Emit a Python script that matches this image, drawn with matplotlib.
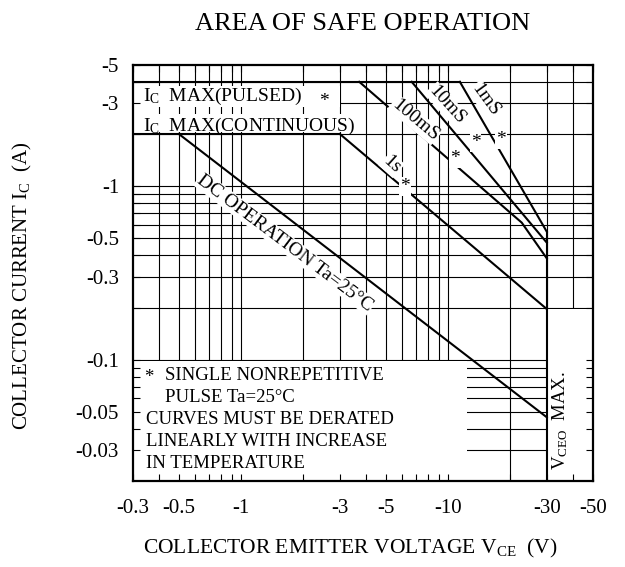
import matplotlib
matplotlib.use("Agg")
import matplotlib.pyplot as plt
from matplotlib.patches import Rectangle
from matplotlib.ticker import FixedLocator, FixedFormatter, NullFormatter

plt.rcParams['font.family'] = ['Liberation Serif', 'DejaVu Serif']
plt.rcParams['mathtext.fontset'] = 'custom'
plt.rcParams['mathtext.rm'] = 'Liberation Serif'
plt.rcParams['mathtext.it'] = 'Liberation Serif:italic'
plt.rcParams['mathtext.bf'] = 'Liberation Serif:bold'

# ---------------- data ----------------
x_ticks = [0.3, 0.5, 1, 3, 5, 10, 30, 50]
x_tick_labels = ["-0.3", "-0.5", "-1", "-3", "-5", "-10", "-30", "-50"]
y_ticks = [0.03, 0.05, 0.1, 0.3, 0.5, 1, 3, 5]
y_tick_labels = ["-0.03", "-0.05", "-0.1", "-0.3", "-0.5", "-1", "-3", "-5"]

x_grid = [0.4, 0.5, 0.6, 0.7, 0.8, 0.9, 1, 2, 3, 4, 5, 6, 7, 8, 9, 10, 20, 30, 40]
y_grid = [0.03, 0.04, 0.05, 0.06, 0.07, 0.08, 0.09, 0.1, 0.2, 0.3, 0.4, 0.5,
          0.6, 0.7, 0.8, 0.9, 1, 2, 3, 4]

vce_pulsed = [0.3, 11.4]
ic_pulsed = [4.0, 4.0]
vce_cont = [0.3, 3.0]
ic_cont = [2.0, 2.0]
vce_dc = [0.5, 30]
ic_dc = [2.0, 0.0466]
vce_1s = [3.0, 30]
ic_1s = [2.0, 0.196]
vce_100ms = [3.72, 22.7, 30]
ic_100ms = [4.0, 0.617, 0.384]
vce_10ms = [6.67, 30]
ic_10ms = [4.0, 0.473]
vce_1ms = [11.4, 30]
ic_1ms = [4.0, 0.547]
vceo_max = 30

# ---------------- figure ----------------
W, H = 625, 567
fig = plt.figure(figsize=(W / 100, H / 100), dpi=100)
ax = fig.add_axes([133 / W, 1 - 481 / H, 459.7 / W, 416 / H])
ax.set_xscale('log')
ax.set_yscale('log')
ax.set_xlim(0.3, 50)
ax.set_ylim(0.02, 5)

# grid (drawn manually so that label boxes can mask it)
for xv in x_grid:
    ax.axvline(xv, color='black', lw=0.8, zorder=1)
for yv in y_grid:
    ax.axhline(yv, color='black', lw=0.8, zorder=1)

# white masking boxes
def wbox(x0, x1, y0, y1):
    ax.add_patch(Rectangle((x0, y0), x1 - x0, y1 - y0, facecolor='white',
                           edgecolor='none', zorder=2))

wbox(0.3, 12.3, 0.02, 0.098)     # notes box
wbox(0.3, 3.0, 2.86, 3.78)       # pulsed label
wbox(0.3, 3.5, 2.06, 2.6)        # continuous label
wbox(30, 50, 0.02, 0.195)        # VCEO max box

lw = 1.5
ax.plot(vce_pulsed, ic_pulsed, color='black', lw=lw, zorder=4)
ax.plot(vce_cont, ic_cont, color='black', lw=lw, zorder=4)
ax.plot(vce_dc, ic_dc, color='black', lw=lw, zorder=4)
ax.plot(vce_1s, ic_1s, color='black', lw=lw, zorder=4)
ax.plot(vce_100ms, ic_100ms, color='black', lw=lw, zorder=4)
ax.plot(vce_10ms, ic_10ms, color='black', lw=lw, zorder=4)
ax.plot(vce_1ms, ic_1ms, color='black', lw=lw, zorder=4)
ax.plot([vceo_max, vceo_max], [0.02, ic_1ms[-1]], color='black', lw=lw, zorder=4)

# ticks
ax.xaxis.set_major_locator(FixedLocator(x_ticks))
ax.xaxis.set_major_formatter(FixedFormatter(x_tick_labels))
ax.xaxis.set_minor_locator(FixedLocator(x_grid))
ax.xaxis.set_minor_formatter(NullFormatter())
ax.yaxis.set_major_locator(FixedLocator(y_ticks))
ax.yaxis.set_major_formatter(FixedFormatter(y_tick_labels))
ax.yaxis.set_minor_locator(FixedLocator(y_grid))
ax.yaxis.set_minor_formatter(NullFormatter())
ax.tick_params(which='both', direction='in', length=5, width=0.8,
               top=True, right=True, labelsize=15)
ax.tick_params(axis='x', which='major', pad=13)
ax.tick_params(axis='y', which='major', pad=10)
ax.set_axisbelow(False)
for s in ax.spines.values():
    s.set_linewidth(1.6)
    s.set_zorder(6)

wb = dict(facecolor='white', edgecolor='none', pad=0.5)
fs = 14
ax.text(0.335, 3.3, r"I$_\mathrm{C}$  MAX(PULSED)", fontsize=fs, ha='left', va='center', zorder=5)
ax.text(0.335, 2.2, r"I$_\mathrm{C}$  MAX(CONTINUOUS)", fontsize=fs, ha='left', va='center', zorder=5)
ax.text(2.52, 3.1, "*", fontsize=fs, ha='center', va='center', zorder=5)

ax.text(15.1, 3.14, "1mS", fontsize=fs, rotation=-54, rotation_mode='anchor',
        ha='center', va='center', bbox=wb, zorder=5)
ax.text(9.84, 2.94, "10mS", fontsize=fs, rotation=-48, rotation_mode='anchor',
        ha='center', va='center', bbox=wb, zorder=5)
ax.text(6.92, 2.41, "100mS", fontsize=fs, rotation=-40, rotation_mode='anchor',
        ha='center', va='center', bbox=wb, zorder=5)
ax.text(5.34, 1.33, "1s", fontsize=fs, rotation=-42, rotation_mode='anchor',
        ha='center', va='center', bbox=wb, zorder=5)
ax.text(1.63, 0.471, "DC OPERATION Ta=25°C", fontsize=fs, rotation=-37,
        rotation_mode='anchor', ha='center', va='center', bbox=wb, zorder=5)
for sx, sy in [(18.0, 1.85), (13.6, 1.79), (10.8, 1.44), (6.19, 1.0)]:
    ax.text(sx, sy, "*", fontsize=fs, ha='center', va='center', bbox=wb, zorder=5)

# notes
def axf(px, py):
    return (px - 133) / 459.7, (481 - py) / 416

nfs = 13.5
ax.text(*axf(149, 378), "*", fontsize=nfs, ha='center', va='center', transform=ax.transAxes, zorder=5)
ax.text(*axf(165, 375), "SINGLE NONREPETITIVE", fontsize=nfs, ha='left', va='center', transform=ax.transAxes, zorder=5)
ax.text(*axf(165, 398), "PULSE Ta=25°C", fontsize=nfs, ha='left', va='center', transform=ax.transAxes, zorder=5)
ax.text(*axf(146, 420), "CURVES MUST BE DERATED", fontsize=nfs, ha='left', va='center', transform=ax.transAxes, zorder=5)
ax.text(*axf(146, 441), "LINEARLY WITH INCREASE", fontsize=nfs, ha='left', va='center', transform=ax.transAxes, zorder=5)
ax.text(*axf(146, 463), "IN TEMPERATURE", fontsize=nfs, ha='left', va='center', transform=ax.transAxes, zorder=5)
ax.text(*axf(560, 420), r"V$_\mathrm{CEO}$  MAX.", fontsize=nfs, rotation=90, ha='center', va='center',
        transform=ax.transAxes, zorder=5)

fig.text(363 / W, 1 - 24 / H, "AREA OF SAFE OPERATION", fontsize=19, ha='center', va='center')
fig.text(350 / W, 1 - 548 / H, r"COLLECTOR EMITTER VOLTAGE V$_\mathrm{CE}$  (V)", fontsize=15.5,
         ha='center', va='center')
fig.text(22 / W, 1 - 286 / H, r"COLLECTOR CURRENT I$_\mathrm{C}$  (A)", fontsize=15,
         ha='center', va='center', rotation=90)

fig.savefig("out.png", dpi=100)
